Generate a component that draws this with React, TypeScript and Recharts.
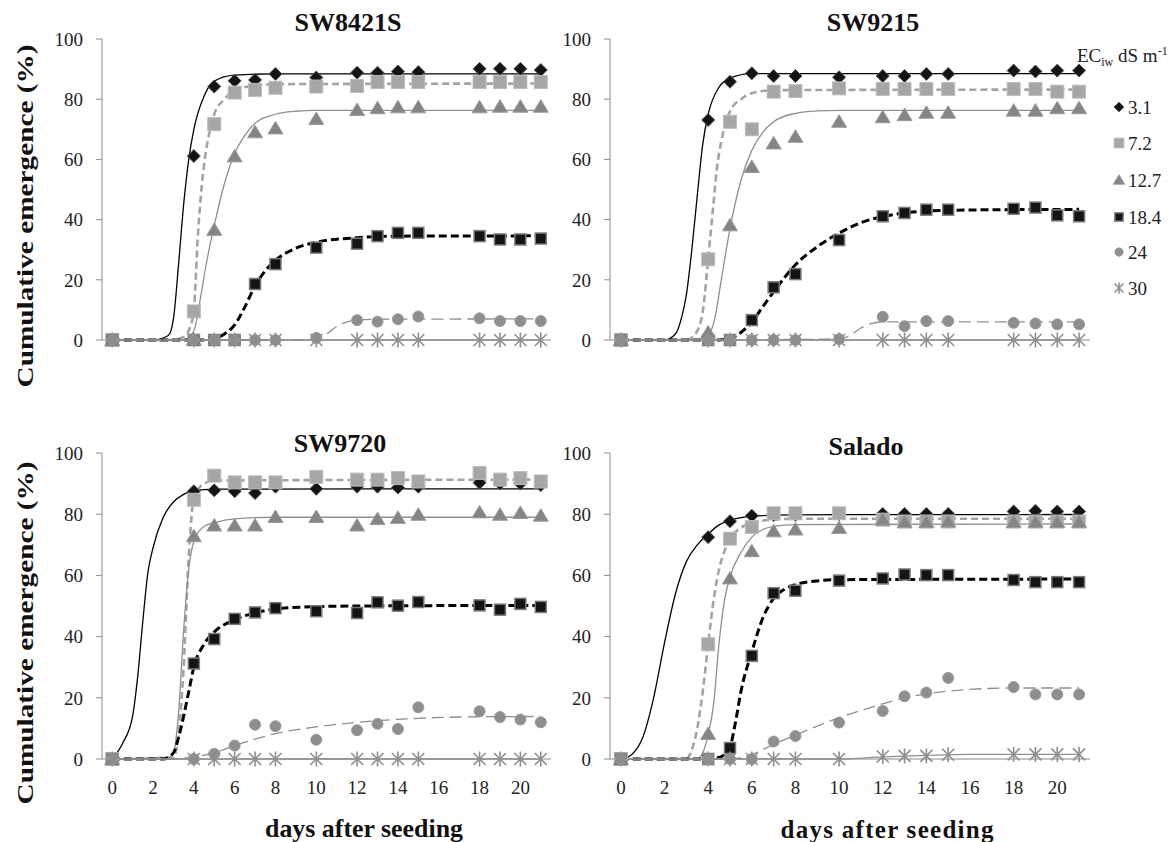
import React from 'react'
import { ComposedChart, Line, Scatter, XAxis, YAxis } from 'recharts'

type Pt = [number, number]

const DAYS = [0, 4, 5, 6, 7, 8, 10, 12, 13, 14, 15, 18, 19, 20, 21]
const X_TICKS = [0, 2, 4, 6, 8, 10, 12, 14, 16, 18, 20]
const Y_TICKS = [0, 20, 40, 60, 80, 100]
const EC_LEVELS = ['3.1', '7.2', '12.7', '18.4', '24', '30']

// observed cumulative emergence (%) per EC level
const sw8421s_31 = [0, 61.1, 84.2, 86.1, 86.4, 88.4, 87.2, 88.8, 88.8, 89.2, 89.0, 90.1, 90.1, 90.1, 89.7]
const sw8421s_72 = [0, 9.5, 71.7, 82.2, 83.1, 83.8, 84.2, 84.4, 85.7, 85.7, 85.7, 85.7, 85.7, 85.7, 85.7]
const sw8421s_127 = [0, 0, 36.6, 61.0, 69.0, 70.3, 73.4, 76.4, 77.0, 77.3, 77.3, 77.3, 77.5, 77.5, 77.5]
const sw8421s_184 = [0, 0, 0, 0, 18.6, 25.2, 30.7, 32.0, 34.5, 35.6, 35.6, 34.5, 33.4, 33.4, 33.7]
const sw8421s_24 = [0, 0, 0, 0, 0, 0, 0.7, 6.6, 6.1, 6.9, 7.8, 7.2, 6.3, 6.3, 6.3]
const sw8421s_30 = [0, 0, 0, 0, 0, 0, 0, 0, 0, 0, 0, 0, 0, 0, 0]

const sw9215_31 = [0, 73.1, 85.8, 88.6, 87.7, 87.7, 87.3, 87.7, 87.7, 88.4, 88.4, 89.5, 89.2, 89.5, 89.5]
const sw9215_72 = [0, 26.8, 72.5, 70.0, 82.5, 82.7, 83.6, 83.4, 83.4, 83.4, 83.4, 83.4, 83.4, 82.5, 82.5]
const sw9215_127 = [0, 2.5, 38.1, 57.5, 65.3, 67.5, 72.5, 74.0, 74.7, 75.5, 75.5, 76.2, 76.2, 77.0, 77.0]
const sw9215_184 = [0, 0, 0, 6.6, 17.5, 21.9, 33.2, 41.1, 42.2, 43.3, 43.3, 43.6, 44.0, 41.4, 41.1]
const sw9215_24 = [0, 0, 0, 0, 0, 0, 0.3, 7.7, 4.6, 6.3, 6.3, 5.7, 5.5, 5.2, 5.2]
const sw9215_30 = [0, 0, 0, 0, 0, 0, 0, 0, 0, 0, 0, 0, 0, 0, 0]

const sw9720_31 = [0, 87.5, 87.8, 87.5, 86.9, 89.0, 88.3, 89.0, 89.0, 88.7, 89.0, 90.3, 90.0, 90.0, 89.5]
const sw9720_72 = [0, 84.7, 92.6, 90.4, 90.4, 90.4, 92.2, 91.3, 91.3, 91.8, 90.7, 93.5, 91.3, 91.8, 90.7]
const sw9720_127 = [0, 72.8, 76.3, 76.3, 76.3, 79.1, 79.1, 76.3, 78.4, 78.8, 79.8, 80.6, 79.8, 80.4, 79.5]
const sw9720_184 = [0, 31.2, 39.2, 45.8, 47.9, 49.3, 48.3, 47.7, 51.2, 50.1, 51.3, 50.2, 48.8, 50.7, 49.7]
const sw9720_24 = [0, 0, 1.7, 4.4, 11.2, 10.7, 6.3, 9.4, 11.5, 9.8, 16.9, 15.6, 13.7, 12.9, 12.0]
const sw9720_30 = [0, 0, 0, 0, 0, 0, 0, 0, 0, 0, 0, 0, 0, 0, 0]

const salado_31 = [0, 72.5, 77.7, 79.5, 79.7, 79.8, 80.0, 80.1, 80.1, 80.1, 80.1, 80.9, 81.1, 80.9, 80.9]
const salado_72 = [0, 37.5, 72.0, 75.8, 80.3, 80.3, 80.3, 78.2, 77.6, 77.6, 77.6, 77.6, 77.6, 77.6, 77.6]
const salado_127 = [0, 8.2, 59.0, 67.9, 74.4, 75.0, 75.5, 78.2, 77.4, 77.4, 77.6, 77.4, 77.4, 77.4, 77.4]
const salado_184 = [0, 0, 3.6, 33.7, 54.2, 55.0, 58.3, 59.0, 60.3, 60.1, 60.1, 58.5, 57.8, 57.8, 57.8]
const salado_24 = [0, 0, 0, 0, 5.7, 7.5, 11.9, 15.7, 20.5, 21.7, 26.5, 23.5, 21.1, 21.1, 21.1]
const salado_30 = [0, 0, 0, 0, 0, 0, 0, 0.8, 1.0, 1.0, 1.4, 1.5, 1.5, 1.5, 1.5]

// fitted curves as [day, %]
const fit_sw8421s_31: Pt[] = [[0, 0], [2, 0], [2.75, 1.5], [3, 7], [3.25, 25], [3.5, 45], [3.75, 60], [4, 70], [4.5, 81], [5, 86], [6, 88], [8, 88.4], [21, 88.4]]
const fit_sw8421s_72: Pt[] = [[0, 0], [3, 0], [3.5, 1], [3.8, 4], [4, 10], [4.2, 35], [4.4, 52], [4.6, 63], [4.8, 70], [5, 75], [5.5, 80], [6, 83], [7, 84.5], [8, 85], [21, 85.2]]
const fit_sw8421s_127: Pt[] = [[0, 0], [3.5, 0], [4, 3], [4.3, 13], [4.6, 25], [5, 38], [5.5, 52], [6, 62], [6.5, 68], [7, 72], [8, 75], [9, 76], [10, 76.3], [21, 76.3]]
const fit_sw8421s_184: Pt[] = [[0, 0], [4.5, 0], [5, 0.5], [5.5, 2], [6, 5], [6.5, 11], [7, 18], [7.5, 23], [8, 26.5], [9, 30.5], [10, 32.5], [12, 34], [14, 34.5], [21, 34.6]]
const fit_sw8421s_24: Pt[] = [[0, 0], [9.5, 0], [10, 0.5], [10.5, 2], [11, 4.5], [11.5, 6], [12, 6.7], [13, 6.9], [21, 7.0]]
const fit_sw8421s_30: Pt[] = [[0, 0], [21, 0]]

const fit_sw9215_31: Pt[] = [[0, 0], [2, 0], [2.5, 2], [2.8, 8], [3, 15], [3.25, 30], [3.5, 48], [3.75, 65], [4, 75], [4.5, 84], [5, 87], [6, 88.5], [21, 88.5]]
const fit_sw9215_72: Pt[] = [[0, 0], [3, 0], [3.5, 3], [3.8, 12], [4, 27], [4.2, 42], [4.4, 57], [4.6, 66], [4.8, 72], [5, 76], [5.5, 80], [6, 82], [7, 83], [21, 83.2]]
const fit_sw9215_127: Pt[] = [[0, 0], [3.5, 0], [4, 1.5], [4.3, 7], [4.6, 20], [5, 37], [5.5, 53], [6, 63], [6.5, 69], [7, 72.5], [8, 75.3], [9, 76.1], [10, 76.3], [21, 76.3]]
const fit_sw9215_184: Pt[] = [[0, 0], [4.5, 0], [5, 0.5], [5.5, 2.5], [6, 6], [6.5, 11], [7, 16], [8, 25], [9, 31], [10, 35.5], [11, 39], [12, 41], [13, 42.2], [14, 42.8], [16, 43.2], [21, 43.4]]
const fit_sw9215_24: Pt[] = [[0, 0], [10, 0.3], [10.5, 1.5], [11, 4], [11.5, 5.5], [12, 6], [21, 6]]
const fit_sw9215_30: Pt[] = [[0, 0], [21, 0]]

const fit_sw9720_31: Pt[] = [[0, 0], [0.5, 5], [1, 14], [1.25, 27], [1.5, 45], [1.75, 61], [2, 69], [2.5, 79], [3, 84], [3.5, 86.5], [4, 87.7], [5, 88.2], [21, 88.3]]
const fit_sw9720_72: Pt[] = [[0, 0], [3, 0.5], [3.25, 8], [3.5, 30], [3.75, 66], [4, 85], [4.5, 90], [5, 91], [21, 91.3]]
const fit_sw9720_127: Pt[] = [[0, 0], [2.75, 0.5], [3, 2], [3.25, 15], [3.5, 42], [3.75, 62], [4, 71], [4.5, 76], [5, 77.2], [6, 78.5], [8, 79], [21, 79]]
const fit_sw9720_184: Pt[] = [[0, 0], [2.5, 0], [3, 2], [3.25, 7], [3.5, 14], [3.75, 22], [4, 30], [4.5, 37.5], [5, 41.5], [6, 45.5], [7, 47.8], [8, 49], [10, 49.8], [12, 50], [21, 50.2]]
const fit_sw9720_24: Pt[] = [[0, 0], [3, 0], [4, 0.7], [5, 2], [6, 4.4], [7, 6.5], [8, 8.3], [10, 10.5], [12, 12], [15, 13.3], [18, 13.8], [21, 13.9]]
const fit_sw9720_30: Pt[] = [[0, 0], [21, 0]]

const fit_salado_31: Pt[] = [[0, 0], [0.5, 1.5], [1, 7], [1.5, 20], [2, 38], [2.5, 54], [3, 64.5], [3.5, 70], [4, 73.5], [4.5, 76.5], [5, 78], [6, 79.3], [8, 79.8], [21, 79.9]]
const fit_salado_72: Pt[] = [[0, 0], [3, 0], [3.25, 3], [3.5, 10], [3.75, 22], [4, 37.5], [4.25, 52], [4.5, 62], [4.75, 68], [5, 72], [5.5, 75.5], [6, 77.3], [7, 78.2], [8, 78.5], [21, 78.5]]
const fit_salado_127: Pt[] = [[0, 0], [3.5, 0], [3.75, 2], [4, 8], [4.25, 18], [4.5, 38], [4.75, 52], [5, 59.5], [5.5, 67.5], [6, 72.5], [6.5, 75], [7, 76], [8, 76.6], [21, 76.8]]
const fit_salado_184: Pt[] = [[0, 0], [4, 0], [4.5, 0.5], [5, 4], [5.25, 12], [5.5, 22], [6, 35], [6.5, 46], [7, 52.5], [7.5, 55.5], [8, 57], [9, 58.2], [10, 58.6], [21, 58.8]]
const fit_salado_24: Pt[] = [[0, 0], [5, 0], [6, 1.5], [7, 4.8], [8, 7.8], [10, 13.5], [12, 18], [13, 20], [14, 21.3], [15, 22.2], [18, 23.2], [21, 23.2]]
const fit_salado_30: Pt[] = [[0, 0], [10, 0], [12, 0.7], [14, 1.2], [16, 1.5], [21, 1.5]]

const FONT = 'Liberation Serif'
const AXIS_GRAY = '#8a8a8a'

const LINE_STYLES = [
  { stroke: '#000', width: 1.3, dash: undefined },
  { stroke: '#a3a3a3', width: 2.6, dash: '7 4' },
  { stroke: '#8f8f8f', width: 1.3, dash: undefined },
  { stroke: '#000', width: 3, dash: '8 4' },
  { stroke: '#8f8f8f', width: 1.3, dash: '12 6' },
  { stroke: '#8f8f8f', width: 1.3, dash: undefined },
]

function drawMarker(i: number, cx: number, cy: number, s = 1) {
  if (i === 0) {
    const h = 6.5 * s
    return <polygon points={`${cx},${cy - h} ${cx + h},${cy} ${cx},${cy + h} ${cx - h},${cy}`} fill="#141414" stroke="#555" strokeWidth={1} />
  }
  if (i === 1) {
    const h = 6.5 * s
    return <rect x={cx - h} y={cy - h} width={2 * h} height={2 * h} fill="#a6a6a6" stroke="#bdbdbd" strokeWidth={1} />
  }
  if (i === 2) {
    return <polygon points={`${cx},${cy - 7 * s} ${cx + 7.5 * s},${cy + 5.5 * s} ${cx - 7.5 * s},${cy + 5.5 * s}`} fill="#858585" stroke="#9a9a9a" strokeWidth={1} />
  }
  if (i === 3) {
    const h = 5.5 * s
    return <rect x={cx - h} y={cy - h} width={2 * h} height={2 * h} fill="#141414" stroke="#7a7a7a" strokeWidth={1.5} />
  }
  if (i === 4) {
    return <circle cx={cx} cy={cy} r={5.5 * s} fill="#8e8e8e" stroke="#9a9a9a" strokeWidth={1} />
  }
  const h = 6 * s
  return (
    <g>
      <line x1={cx - h} y1={cy - h} x2={cx + h} y2={cy + h} stroke="#8e8e8e" strokeWidth={1.6} />
      <line x1={cx - h} y1={cy + h} x2={cx + h} y2={cy - h} stroke="#8e8e8e" strokeWidth={1.6} />
      <line x1={cx} y1={cy - h * 1.25} x2={cx} y2={cy + h * 1.25} stroke="#8e8e8e" strokeWidth={1.6} />
    </g>
  )
}

function markerShape(i: number) {
  return (p: any) => {
    if (p.cx == null || p.cy == null) return <g />
    return drawMarker(i, p.cx, p.cy)
  }
}

function XTick(p: any) {
  return (
    <text x={p.x} y={p.y} dy="0.71em" textAnchor="middle" fontSize={19} fill="#222" style={{ fontFamily: FONT }}>
      {p.payload.value}
    </text>
  )
}

function YTick(p: any) {
  return (
    <text x={p.x} y={p.y} dy="0.36em" textAnchor="end" fontSize={19} fill="#222" style={{ fontFamily: FONT }}>
      {p.payload.value}
    </text>
  )
}

interface PanelProps {
  left: number
  top: number
  w: number
  h: number
  showX: boolean
  obs: number[][]
  fits: Pt[][]
}

function Panel({ left, top, w, h, showX, obs, fits }: PanelProps) {
  const ML = 60
  const MT = 10
  const MR = 10
  const MB = 40
  return (
    <div style={{ position: 'absolute', left: left - ML, top: top - MT }}>
      <ComposedChart width={w + ML + MR} height={h + MT + MB} margin={{ top: MT, right: MR, bottom: 0, left: 0 }}>
        <XAxis
          type="number"
          dataKey="x"
          domain={[-0.5, 21.5]}
          ticks={X_TICKS}
          height={MB}
          tick={showX ? <XTick /> : false}
          tickLine={false}
          tickSize={0}
          tickMargin={22}
          stroke={AXIS_GRAY}
        />
        <YAxis
          type="number"
          dataKey="y"
          domain={[0, 100]}
          ticks={Y_TICKS}
          width={ML}
          tick={<YTick />}
          tickSize={6}
          tickMargin={13}
          stroke={AXIS_GRAY}
        />
        {fits.map((f, i) => (
          <Line
            key={'fit' + i}
            data={f.map(([x, y]) => ({ x, y }))}
            dataKey="y"
            type="monotone"
            stroke={LINE_STYLES[i].stroke}
            strokeWidth={LINE_STYLES[i].width}
            strokeDasharray={LINE_STYLES[i].dash}
            dot={false}
            activeDot={false}
            isAnimationActive={false}
          />
        ))}
        {obs.map((vals, i) => (
          <Scatter
            key={'obs' + i}
            data={DAYS.map((x, k) => ({ x, y: vals[k] }))}
            dataKey="y"
            shape={markerShape(i)}
            isAnimationActive={false}
          />
        ))}
      </ComposedChart>
    </div>
  )
}

export default function App() {
  const legendY = [107, 143, 180, 217, 252, 288]
  return (
    <div style={{ position: 'absolute', left: 0, top: 0, width: 1173, height: 842, background: '#fff', overflow: 'hidden', fontFamily: FONT }}>
      <Panel left={102} top={39} w={449} h={301} showX={false}
        obs={[sw8421s_31, sw8421s_72, sw8421s_127, sw8421s_184, sw8421s_24, sw8421s_30]}
        fits={[fit_sw8421s_31, fit_sw8421s_72, fit_sw8421s_127, fit_sw8421s_184, fit_sw8421s_24, fit_sw8421s_30]} />
      <Panel left={610} top={39} w={480} h={301} showX={false}
        obs={[sw9215_31, sw9215_72, sw9215_127, sw9215_184, sw9215_24, sw9215_30]}
        fits={[fit_sw9215_31, fit_sw9215_72, fit_sw9215_127, fit_sw9215_184, fit_sw9215_24, fit_sw9215_30]} />
      <Panel left={102} top={453} w={449} h={306} showX
        obs={[sw9720_31, sw9720_72, sw9720_127, sw9720_184, sw9720_24, sw9720_30]}
        fits={[fit_sw9720_31, fit_sw9720_72, fit_sw9720_127, fit_sw9720_184, fit_sw9720_24, fit_sw9720_30]} />
      <Panel left={610} top={453} w={480} h={306} showX
        obs={[salado_31, salado_72, salado_127, salado_184, salado_24, salado_30]}
        fits={[fit_salado_31, fit_salado_72, fit_salado_127, fit_salado_184, fit_salado_24, fit_salado_30]} />

      <svg width={1173} height={842} style={{ position: 'absolute', left: 0, top: 0, pointerEvents: 'none', fontFamily: FONT }}>
        <g fontWeight="bold" fontSize={26} textAnchor="middle" fill="#111">
          <text x={348} y={31}>SW8421S</text>
          <text x={873} y={31}>SW9215</text>
          <text x={340} y={452}>SW9720</text>
          <text x={866} y={455}>Salado</text>
        </g>
        <g fontWeight="bold" fontSize={24} fill="#111">
          <text transform="translate(33,216) rotate(-90)" textAnchor="middle" textLength={343} lengthAdjust="spacingAndGlyphs">Cumulative emergence (%)</text>
          <text transform="translate(33,633) rotate(-90)" textAnchor="middle" textLength={343} lengthAdjust="spacingAndGlyphs">Cumulative emergence (%)</text>
          <text x={364} y={837} textAnchor="middle" fontSize={25} textLength={198} lengthAdjust="spacingAndGlyphs">days after seeding</text>
          <text x={887} y={838} textAnchor="middle" fontSize={25} textLength={213} lengthAdjust="spacing">days after seeding</text>
        </g>
        <text x={1077} y={62} fontSize={19} fill="#222">
          EC<tspan fontSize={12} dy={4}>iw</tspan><tspan dy={-4}> dS m</tspan><tspan fontSize={12} dy={-7}>-1</tspan>
        </text>
        {EC_LEVELS.map((lab, i) => (
          <g key={lab}>
            {drawMarker(i, 1119, legendY[i], 0.75)}
            <text x={1128} y={legendY[i] + 6.5} fontSize={19} fill="#222">{lab}</text>
          </g>
        ))}
      </svg>
    </div>
  )
}
